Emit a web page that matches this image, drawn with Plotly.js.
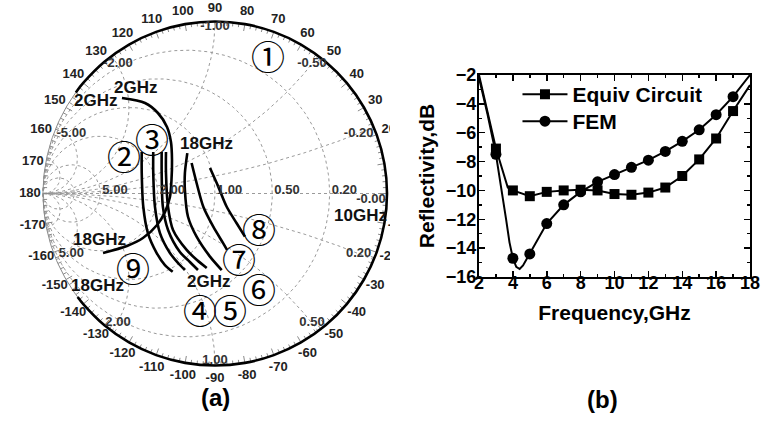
<!DOCTYPE html>
<html><head><meta charset="utf-8">
<script src="https://cdn.plot.ly/plotly-3.0.1.min.js"></script>
<style>html,body{margin:0;padding:0;background:#fff}#chart{width:761px;height:421px}</style>
</head><body><div id="chart"></div>
<script>
// ===== (b) Reflectivity data =====
const freqMarkers  = [3,4,5,6,7,8,9,10,11,12,13,14,15,16,17];
const equivMarkers = [-7.1,-10.0,-10.4,-10.1,-10.0,-9.95,-10.0,-10.25,-10.3,-10.15,-9.8,-9.0,-7.85,-6.4,-4.5];
const femMarkers   = [-7.5,-14.7,-14.4,-12.3,-11.0,-10.1,-9.4,-8.9,-8.4,-7.9,-7.3,-6.6,-5.8,-4.75,-3.5];
const equivLineFreq = [2,3,3.7,4,5,6,7,8,9,10,11,12,13,14,15,16,17,18];
const equivLine     = [-2.0,-7.1,-9.8,-10.0,-10.4,-10.1,-10.0,-9.95,-10.0,-10.25,-10.3,-10.15,-9.8,-9.0,-7.85,-6.4,-4.5,-2.7];
const femLineFreq = [2,2.5,3,3.3,3.6,3.8,4,4.2,4.4,4.6,5,6,7,8,9,10,11,12,13,14,15,16,17,18];
const femLine     = [-2.2,-4.7,-7.5,-9.6,-12.0,-13.6,-14.7,-15.3,-15.45,-15.2,-14.4,-12.3,-11.0,-10.1,-9.4,-8.9,-8.4,-7.9,-7.3,-6.6,-5.8,-4.75,-3.5,-2.0];
const seriesNames = ['Equiv Circuit','FEM'];

// ===== (a) Smith chart data (reflection coefficient, real / imaginary) =====
const curve1AngleDeg = [144,140,130,120,110,100,90,80,70,60,50,40,30,20,10,0,-10,-20,-30,-40,-50,-60,-70,-80,-90,-100,-110,-120,-130,-140,-143];
const curve2Re = [-0.426,-0.426,-0.417,-0.390,-0.339,-0.291,-0.246];
const curve2Im = [0.241,0.119,-0.077,-0.230,-0.346,-0.416,-0.455];
const curve3Re = [-0.359,-0.359,-0.349,-0.320,-0.262,-0.215,-0.175];
const curve3Im = [0.241,0.119,-0.078,-0.230,-0.346,-0.404,-0.445];
const curve4Re = [-0.310,-0.310,-0.303,-0.273,-0.204,-0.146,-0.099];
const curve4Im = [0.241,0.119,-0.078,-0.212,-0.340,-0.398,-0.445];
const curve5Re = [-0.285,-0.285,-0.273,-0.244,-0.165,-0.105,-0.048];
const curve5Im = [0.241,0.119,-0.078,-0.212,-0.328,-0.387,-0.433];
const curve6Re = [-0.161,-0.175,-0.175,-0.157,-0.107,-0.029,0.039];
const curve6Im = [0.235,0.119,0.020,-0.135,-0.251,-0.367,-0.445];
const curve7Re = [-0.136,-0.107,-0.068,-0.010,0.048,0.070];
const curve7Im = [0.177,0.061,-0.077,-0.193,-0.290,-0.328];
const curve8Re = [-0.029,0.019,0.068,0.126,0.174];
const curve8Im = [0.148,0.040,-0.077,-0.173,-0.251];
const curve9Re = [-0.541,-0.407,-0.332,-0.279,-0.256,-0.250,-0.253,-0.262,-0.291,-0.337,-0.419,-0.512,-0.651];
const curve9Im = [0.555,0.526,0.468,0.387,0.299,0.195,0.078,-0.020,-0.108,-0.183,-0.259,-0.305,-0.346];

// Smith grid values and scale labels
const gridG = [0.2,0.5,1,2,5,10];
const gridB = [-10,-5,-2,-1,-0.5,-0.2,0.2,0.5,1,2,5,10];
const labelG = [0.2,0.5,1,2,5];
const labelB = [-0.2,-0.5,-1,-2,-5,0.2,0.5,1,2,5];
const angleTicks = [0,10,20,30,40,50,60,70,80,90,100,110,120,130,140,150,160,170,180,-10,-20,-30,-40,-50,-60,-70,-80,-90,-100,-110,-120,-130,-140,-150,-160,-170];

// ----- helpers -----
const FONT = 'Liberation Sans, Arial, sans-serif';
const R = 172, CX = 215, CY = 193.5;
const P = (px,py)=>[(px-CX)/R,(CY-py)/R];          // pixel → Γ plane (layout only)
function y2gamma(g,b){const dr=1+g,di=b,nr=1-g,ni=-b,den=dr*dr+di*di;return [(nr*dr+ni*di)/den,(ni*dr-nr*di)/den];}

// grid lines
const gx=[],gy=[];
gridG.forEach(g=>{for(let a=-89.5;a<=89.5;a+=0.5){const p=y2gamma(g,Math.tan(a*Math.PI/180));gx.push(p[0]);gy.push(p[1]);}gx.push(-1);gy.push(0);gx.push(null);gy.push(null);});
gridB.forEach(b=>{for(let a=0;a<=89.5;a+=0.5){const p=y2gamma(Math.tan(a*Math.PI/180),b);gx.push(p[0]);gy.push(p[1]);}gx.push(-1);gy.push(0);gx.push(null);gy.push(null);});
gx.push(1,-1,null);gy.push(0,0,null);

// rim circle and rim ticks
const rx=[],ry=[];for(let a=0;a<=360;a+=1){rx.push(Math.cos(a*Math.PI/180));ry.push(Math.sin(a*Math.PI/180));}
const tx=[],ty=[];for(let a=-180;a<180;a+=2){const L=(a%10===0?7:4)/R;const c=Math.cos(a*Math.PI/180),s=Math.sin(a*Math.PI/180);tx.push(c,(1-L)*c,null);ty.push(s,(1-L)*s,null);}

const traces=[];
traces.push({x:gx,y:gy,xaxis:'x2',yaxis:'y2',mode:'lines',line:{color:'#9a9a9a',width:1,dash:'dot'},hoverinfo:'skip',showlegend:false});
traces.push({x:rx,y:ry,xaxis:'x2',yaxis:'y2',mode:'lines',line:{color:'#8a8a8a',width:1},hoverinfo:'skip',showlegend:false});
traces.push({x:tx,y:ty,xaxis:'x2',yaxis:'y2',mode:'lines',line:{color:'#8a8a8a',width:1},hoverinfo:'skip',showlegend:false});

// curve 1 on the unit circle
traces.push({x:curve1AngleDeg.map(a=>Math.cos(a*Math.PI/180)),y:curve1AngleDeg.map(a=>Math.sin(a*Math.PI/180)),xaxis:'x2',yaxis:'y2',mode:'lines',line:{color:'#000',width:2.6,shape:'spline'},hoverinfo:'skip',showlegend:false});
[[curve2Re,curve2Im],[curve3Re,curve3Im],[curve4Re,curve4Im],[curve5Re,curve5Im],[curve6Re,curve6Im],[curve7Re,curve7Im],[curve8Re,curve8Im],[curve9Re,curve9Im]].forEach(c=>{
  traces.push({x:c[0],y:c[1],xaxis:'x2',yaxis:'y2',mode:'lines',line:{color:'#000',width:2.6,shape:'spline',smoothing:0.8},hoverinfo:'skip',showlegend:false});
});

// angle labels
const LR=185/R;
traces.push({x:angleTicks.map(a=>LR*Math.cos(a*Math.PI/180)),y:angleTicks.map(a=>LR*Math.sin(a*Math.PI/180)),text:angleTicks.map(String),xaxis:'x2',yaxis:'y2',mode:'text',textposition:'middle center',textfont:{family:FONT,size:13,weight:'bold',color:'#222'},hoverinfo:'skip',showlegend:false});
// g labels on the horizontal axis
traces.push({x:labelG.map(g=>(1-g)/(1+g)+2/R),y:labelG.map(()=>3/R),text:labelG.map(g=>g.toFixed(2)),xaxis:'x2',yaxis:'y2',mode:'text',textposition:'middle right',textfont:{family:FONT,size:13,weight:'bold',color:'#333'},hoverinfo:'skip',showlegend:false});
// b labels near the rim
const bR={0.2:0.905,0.5:0.94,1:0.972,2:0.94,5:0.905};
traces.push({x:labelB.map(b=>bR[Math.abs(b)]*Math.cos(-2*Math.atan(b))),y:labelB.map(b=>bR[Math.abs(b)]*Math.sin(-2*Math.atan(b))),text:labelB.map(b=>b.toFixed(2)),xaxis:'x2',yaxis:'y2',mode:'text',textposition:'middle center',textfont:{family:FONT,size:13,weight:'bold',color:'#333'},hoverinfo:'skip',showlegend:false});
const z0=P(371,200);
traces.push({x:[z0[0]],y:[z0[1]],text:['-0.00'],xaxis:'x2',yaxis:'y2',mode:'text',textposition:'middle center',textfont:{family:FONT,size:13,weight:'bold',color:'#333'},hoverinfo:'skip',showlegend:false});

// ===== (b) traces =====
traces.push({x:equivLineFreq,y:equivLine,mode:'lines',line:{color:'#000',width:2},hoverinfo:'skip',showlegend:false});
traces.push({x:femLineFreq,y:femLine,mode:'lines',line:{color:'#000',width:2},hoverinfo:'skip',showlegend:false});
traces.push({x:freqMarkers,y:equivMarkers,mode:'markers',marker:{symbol:'square',size:10,color:'#000'},hoverinfo:'skip',showlegend:false});
traces.push({x:freqMarkers,y:femMarkers,mode:'markers',marker:{symbol:'circle',size:11,color:'#000'},hoverinfo:'skip',showlegend:false});
traces.push({x:[null],y:[null],name:seriesNames[0],legend:'legend',mode:'lines+markers',line:{color:'#000',width:2},marker:{symbol:'square',size:10,color:'#000'}});
traces.push({x:[null],y:[null],name:seriesNames[1],legend:'legend2',mode:'lines+markers',line:{color:'#000',width:2},marker:{symbol:'circle',size:11,color:'#000'}});

// annotations on smith chart
const ann=[];
function addText(txt,px,py,size,family){const p=P(px,py);ann.push({x:p[0],y:p[1],xref:'x2',yref:'y2',text:txt,showarrow:false,xanchor:'center',yanchor:'middle',font:{family:family||FONT,size:size,weight:'bold',color:'#111'}});}
addText('2GHz',135,87,17); addText('2GHz',95,100,17); addText('18GHz',206,143,17);
addText('18GHz',99,239,17); addText('18GHz',97,285,17); addText('2GHz',208,281,17); addText('10GHz',360,215,17);
const circ=[['①',268,55],['②',124,155],['③',152,138],['④',200,309],['⑤',230,309],['⑥',259,288],['⑦',239,258],['⑧',259,228],['⑨',133,267]];
circ.forEach(c=>{const p=P(c[1],c[2]);ann.push({x:p[0],y:p[1],xref:'x2',yref:'y2',text:c[0],showarrow:false,xanchor:'center',yanchor:'middle',font:{family:'Noto Sans CJK JP',size:34,weight:'normal',color:'#000'}});});
ann.push({x:215/761,y:1-397/421,xref:'paper',yref:'paper',text:'(a)',showarrow:false,xanchor:'center',yanchor:'middle',font:{family:FONT,size:24,weight:'bold',color:'#000'}});
ann.push({x:602/761,y:1-399/421,xref:'paper',yref:'paper',text:'(b)',showarrow:false,xanchor:'center',yanchor:'middle',font:{family:FONT,size:24,weight:'bold',color:'#000'}});

const tickFont={family:FONT,size:18,weight:'bold',color:'#000'};
const titleFont={family:FONT,size:21,weight:'bold',color:'#000'};
const legFont={family:FONT,size:21,weight:'bold',color:'#000'};
const layout={
  width:761,height:421,margin:{l:0,r:0,t:0,b:0},paper_bgcolor:'#fff',plot_bgcolor:'rgba(0,0,0,0)',
  showlegend:true,
  legend:{x:0.680,y:1-74/421,xanchor:'left',yanchor:'top',bgcolor:'rgba(0,0,0,0)',font:legFont,itemwidth:45},
  legend2:{x:0.680,y:1-101/421,xanchor:'left',yanchor:'top',bgcolor:'rgba(0,0,0,0)',font:legFont,itemwidth:45},
  xaxis:{domain:[479/761,750/761],range:[2,18],tick0:2,dtick:2,ticks:'inside',ticklen:6,tickwidth:1.5,tickcolor:'#000',showline:true,linewidth:2,linecolor:'#000',mirror:'ticks',
    minor:{ticks:'inside',dtick:1,ticklen:3,tickcolor:'#000',tickwidth:1.5},showgrid:false,zeroline:false,tickfont:tickFont,ticklabelstandoff:-12,
    title:{text:'Frequency,GHz',font:titleFont,standoff:14},anchor:'y',fixedrange:true},
  yaxis:{domain:[1-277/421,1-75/421],range:[-16,-2],tick0:-16,dtick:2,ticks:'inside',ticklen:6,tickwidth:1.5,tickcolor:'#000',showline:true,linewidth:2,linecolor:'#000',mirror:'ticks',
    minor:{ticks:'inside',dtick:1,ticklen:3,tickcolor:'#000',tickwidth:1.5},showgrid:false,zeroline:false,tickfont:tickFont,ticklabelstandoff:-3,
    title:{text:'Reflectivity,dB',font:titleFont,standoff:6},anchor:'x',fixedrange:true},
  xaxis2:{domain:[0,390/761],range:[-CX/R,(390-CX)/R],visible:false,anchor:'y2',fixedrange:true},
  yaxis2:{domain:[1-382/421,1],range:[(CY-382)/R,CY/R],visible:false,anchor:'x2',fixedrange:true},
  annotations:ann
};
Plotly.newPlot('chart',traces,layout,{displayModeBar:false,staticPlot:true});
</script></body></html>
